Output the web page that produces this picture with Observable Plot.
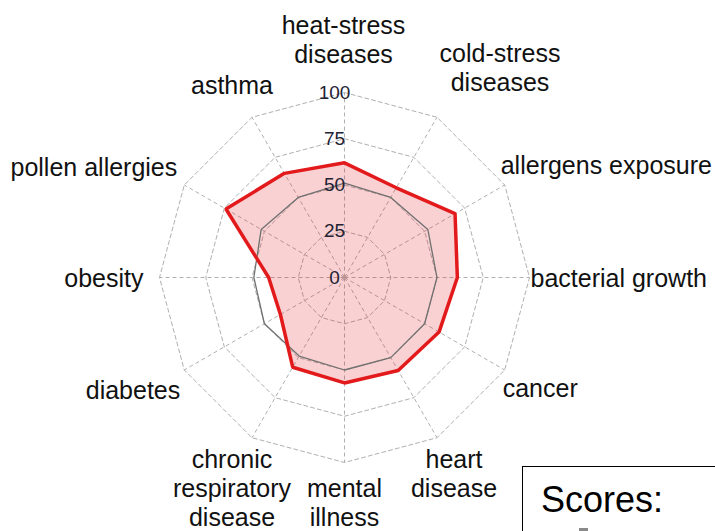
<!DOCTYPE html>
<html><head><meta charset="utf-8">
<script src="https://cdn.jsdelivr.net/npm/d3@7"></script>
<script src="https://cdn.jsdelivr.net/npm/@observablehq/plot@0.6"></script>
<style>
body{margin:0;background:#fff;overflow:hidden;}
#wrap{position:relative;width:715px;height:531px;overflow:hidden;background:#fff;}
#legend{position:absolute;left:522px;top:466px;width:260px;height:120px;border:1px solid #000;background:#fff;box-sizing:border-box;font-family:"Liberation Sans",Arial,sans-serif;}
#legend .title{position:absolute;left:18px;top:15px;font-size:36px;line-height:36px;color:#000;}
#legend .sw{position:absolute;left:56px;top:61px;width:9px;height:9px;background:#8a8a8a;}
</style></head><body><div id="wrap"></div>
<script>
// ---- data ----
const categories = ["heat-stress\ndiseases", "cold-stress\ndiseases", "allergens exposure", "bacterial growth", "cancer", "heart\ndisease", "mental\nillness", "chronic\nrespiratory\ndisease", "diabetes", "obesity", "pollen allergies", "asthma"];
const scores    = [62, 56, 69, 61, 59, 58, 57, 56, 40, 41, 74, 65];
const reference = [51, 50, 52, 50, 50, 50, 50, 49, 50, 49, 52, 50];
const ticks = [0, 25, 50, 75, 100];
const legendTitle = "Scores:";

// ---- layout (pixels) ----
const W = 715, H = 531, cx = 344, cy = 277, k = 1.85; // px per score unit
const labelLayout = [
  {anchor: "middle", dx: -1, dy: -53},
  {anchor: "middle", dx: 63, dy: -50},
  {anchor: "start", dx: -4, dy: -20},
  {anchor: "start", dx: 1, dy: 0},
  {anchor: "start", dx: -2, dy: 18},
  {anchor: "middle", dx: 17, dy: 36},
  {anchor: "middle", dx: 0, dy: 40},
  {anchor: "middle", dx: -20, dy: 50},
  {anchor: "end", dx: -4, dy: 20},
  {anchor: "end", dx: -16, dy: 0},
  {anchor: "end", dx: -7, dy: -18},
  {anchor: "middle", dx: -20, dy: -33}
];

const n = categories.length;
const ang = i => i * 2 * Math.PI / n;
const px = (v, i) => v * Math.sin(ang(i));
const py = (v, i) => v * Math.cos(ang(i));

const rings = ticks.filter(t => t > 0).flatMap(t => categories.map((c, i) => ({level: t, x: px(t, i), y: py(t, i)})));
const spokes = categories.map((c, i) => ({x2: px(100, i), y2: py(100, i)}));
const scorePts = scores.map((v, i) => ({x: px(v, i), y: py(v, i)}));
const refPts = reference.map((v, i) => ({x: px(v, i), y: py(v, i)}));
const labels = categories.map((c, i) => ({
  text: c, anchor: labelLayout[i].anchor,
  x: px(100, i) + labelLayout[i].dx / k,
  y: py(100, i) - labelLayout[i].dy / k
}));

const font = "Liberation Sans, Arial, Helvetica, sans-serif";
const labelMark = a => Plot.text(labels.filter(d => d.anchor === a), {
  x: "x", y: "y", text: "text", textAnchor: a, lineAnchor: "middle",
  fontSize: 25, lineHeight: 1.16, fill: "#111", fontFamily: font
});

const chart = Plot.plot({
  width: W, height: H,
  marginTop: 0, marginBottom: 0, marginLeft: 0, marginRight: 0,
  x: {domain: [-cx / k, (W - cx) / k], axis: null},
  y: {domain: [-(H - cy) / k, cy / k], axis: null},
  style: {fontFamily: font, background: "#fff"},
  marks: [
    Plot.line(rings, {x: "x", y: "y", z: "level", curve: "linear-closed", stroke: "#b0b0b0", strokeWidth: 1, strokeDasharray: "4,3"}),
    Plot.link(spokes, {x1: 0, y1: 0, x2: "x2", y2: "y2", stroke: "#b0b0b0", strokeWidth: 1, strokeDasharray: "4,3"}),
    Plot.line(scorePts, {x: "x", y: "y", curve: "linear-closed", fill: "#e31a1c", fillOpacity: 0.2, stroke: "none"}),
    Plot.line(refPts, {x: "x", y: "y", curve: "linear-closed", stroke: "#707070", strokeWidth: 1.3, strokeLinejoin: "miter"}),
    Plot.line(scorePts, {x: "x", y: "y", curve: "linear-closed", stroke: "#e31a1c", strokeWidth: 3.5, strokeLinejoin: "miter"}),
    Plot.text(ticks, {x: 0, y: d => d, text: d => String(d), dx: -10, fontSize: 19, fill: "#223", fontFamily: font}),
    labelMark("middle"), labelMark("start"), labelMark("end")
  ]
});
const wrap = document.getElementById("wrap");
wrap.appendChild(chart);
const lg = document.createElement("div");
lg.id = "legend";
lg.innerHTML = '<div class="title"></div><div class="sw"></div>';
lg.querySelector(".title").textContent = legendTitle;
wrap.appendChild(lg);
</script>
</body></html>
